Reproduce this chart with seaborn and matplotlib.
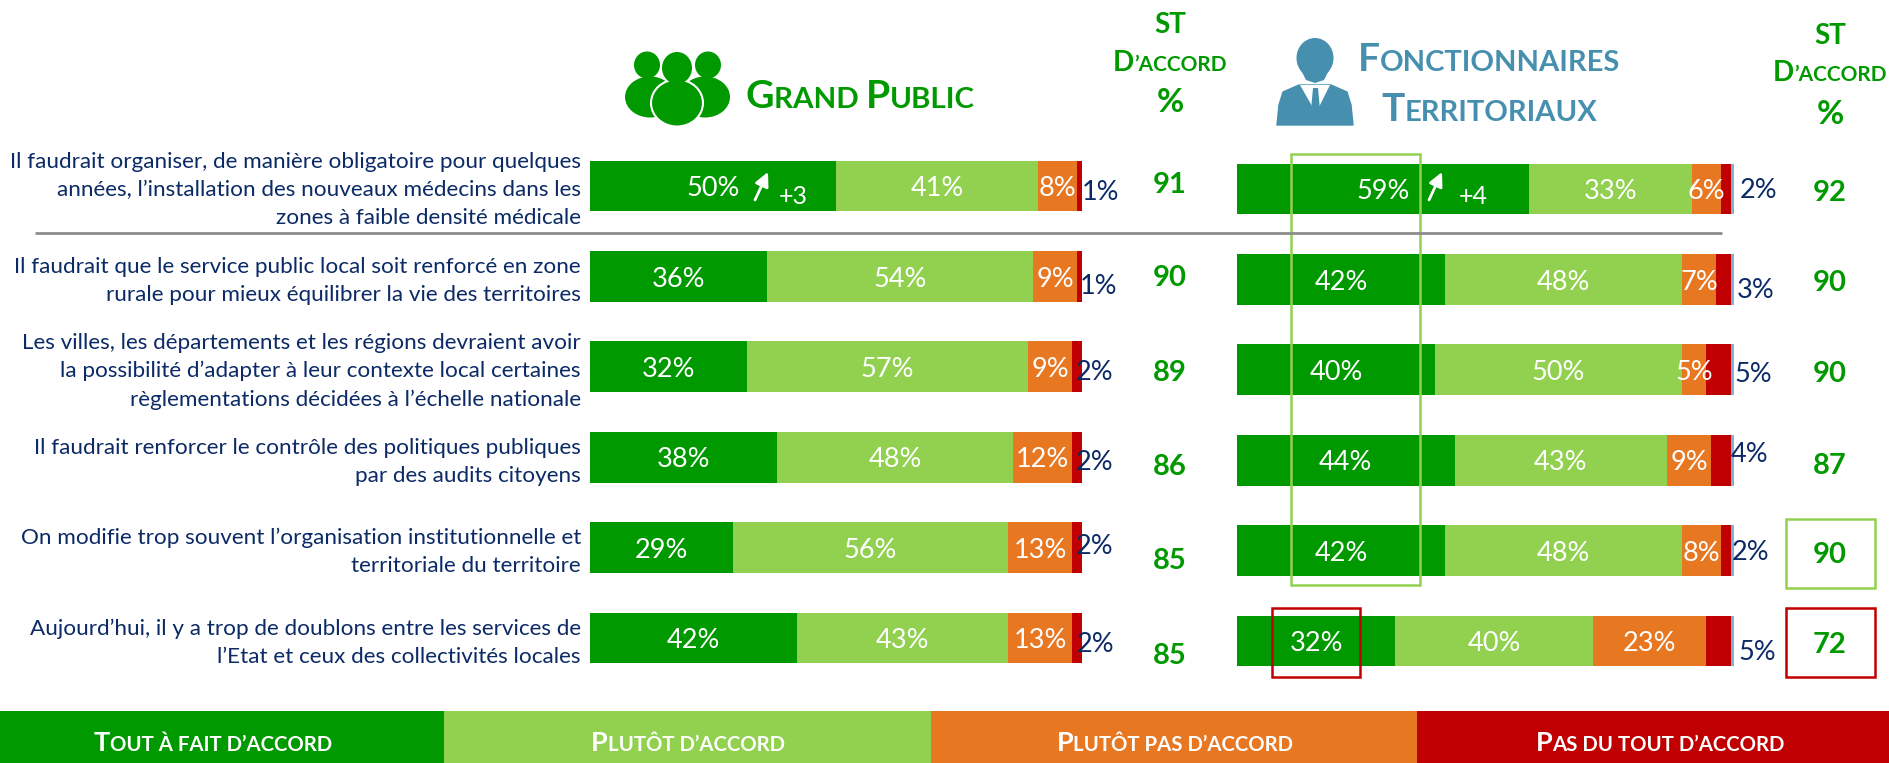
import matplotlib
matplotlib.use("Agg")
import matplotlib.pyplot as plt
import seaborn as sns
import pandas as pd
from matplotlib.patches import Rectangle, Ellipse, Polygon
from matplotlib.transforms import ScaledTranslation

# ---------- data ----------
questions = [
    "Il faudrait organiser, de manière obligatoire pour quelques\nannées, l’installation des nouveaux médecins dans les\nzones à faible densité médicale",
    "Il faudrait que le service public local soit renforcé en zone\nrurale pour mieux équilibrer la vie des territoires",
    "Les villes, les départements et les régions devraient avoir\nla possibilité d’adapter à leur contexte local certaines\nrèglementations décidées à l’échelle nationale",
    "Il faudrait renforcer le contrôle des politiques publiques\npar des audits citoyens",
    "On modifie trop souvent l’organisation institutionnelle et\nterritoriale du territoire",
    "Aujourd’hui, il y a trop de doublons entre les services de\nl’Etat et ceux des collectivités locales",
]
categories = ["Tout à fait d’accord", "Plutôt d’accord", "Plutôt pas d’accord", "Pas du tout d’accord"]

gp_tout = [50, 36, 32, 38, 29, 42]
gp_plutot = [41, 54, 57, 48, 56, 43]
gp_plutot_pas = [8, 9, 9, 12, 13, 13]
gp_pas = [1, 1, 2, 2, 2, 2]
gp_st = [91, 90, 89, 86, 85, 85]

ft_tout = [59, 42, 40, 44, 42, 32]
ft_plutot = [33, 48, 50, 43, 48, 40]
ft_plutot_pas = [6, 7, 5, 9, 8, 23]
ft_pas = [2, 3, 5, 4, 2, 5]
ft_nsp = [0.5, 0.5, 0.5, 0.5, 0.5, 0.5]
ft_st = [92, 90, 90, 87, 90, 72]

# ---------- style ----------
GREEN, LIGHT, ORANGE, RED = "#009900", "#92D14F", "#E87722", "#C00000"
NAVY, TEAL, SLIVER, GREY = "#0B2A66", "#468FAF", "#7FB2D6", "#8C8C8C"
seg_colors = [GREEN, LIGHT, ORANGE, RED, SLIVER]

sns.set_theme(style="white")
plt.rcParams["font.family"] = ["Lato", "DejaVu Sans"]

W, H = 1889, 763
fig = plt.figure(figsize=(W / 100, H / 100), dpi=100, facecolor="white")


def axes_px(x0, x1, y0, y1):
    return fig.add_axes([x0 / W, 1 - y1 / H, (x1 - x0) / W, (y1 - y0) / H])


def stacked(ax, series, xmax):
    left = [0.0] * len(questions)
    for vals, col in zip(series, seg_colors):
        df = pd.DataFrame({"q": questions, "v": vals})
        sns.barplot(data=df, y="q", x="v", left=left, color=col, saturation=1,
                    width=0.56, orient="h", ax=ax, linewidth=0, errorbar=None)
        for i, v in enumerate(vals):
            if col in (GREEN, LIGHT, ORANGE):
                ax.text(left[i] + v / 2, i + 0.03, f"{v}%", color="white", fontsize=LBL,
                        ha="center", va="center")
        left = [a + b for a, b in zip(left, vals)]
    ax.set_xlim(0, xmax)
    ax.set_ylim(5.5, -0.5)
    ax.set_xlabel("")
    ax.set_ylabel("")
    ax.set_xticks([])
    sns.despine(ax=ax, left=True, bottom=True)
    ax.patch.set_alpha(0)


LBL = 19.5
ax_l = axes_px(590, 1082, 140.8, 683.2)
stacked(ax_l, [gp_tout, gp_plutot, gp_plutot_pas, gp_pas], 100)
ax_l.tick_params(axis="y", length=0, pad=6.5)
offset = ScaledTranslation(0, 1.5 / 100, fig.dpi_scale_trans)
for t in ax_l.get_yticklabels():
    t.set_fontsize(16.2)
    t.set_color(NAVY)
    t.set_ha("right")
    t.set_multialignment("right")
    t.set_linespacing(1.5)
    t.set_transform(t.get_transform() + offset)

ax_r = axes_px(1237.2, 1733.6, 143.8, 686.2)
stacked(ax_r, [ft_tout, ft_plutot, ft_plutot_pas, ft_pas, ft_nsp], 100.5)
ax_r.set_yticks([])

# overlay in pixel coordinates for annotations
ov = fig.add_axes([0, 0, 1, 1], zorder=10)
ov.set_xlim(0, W)
ov.set_ylim(H, 0)
ov.axis("off")
ov.patch.set_alpha(0)
renderer = fig.canvas.get_renderer()


def width(s, size, weight):
    a = ov.text(0, 0, "|" + s + "|", fontsize=size, fontweight=weight)
    b = ov.text(0, 0, "||", fontsize=size, fontweight=weight)
    w = a.get_window_extent(renderer).width - b.get_window_extent(renderer).width
    a.remove()
    b.remove()
    return w


def smallcaps(s, cx, cy, big, color, ratio=0.75):
    """Draw s centred on (cx, cy) in small capitals, on a common baseline."""
    runs = []
    for ch in s:
        up = ch.isupper()
        if runs and runs[-1][1] == up:
            runs[-1][0] += ch
        else:
            runs.append([ch, up])
    parts = [(r.upper(), big if up else big * ratio) for r, up in runs]
    widths = [width(t, sz, "bold") for t, sz in parts]
    x = cx - sum(widths) / 2
    base = cy + big * 100 / 72 * 0.36
    for (t, sz), w in zip(parts, widths):
        ov.text(x, base, t, fontsize=sz, fontweight="bold", color=color, ha="left", va="baseline")
        x += w


# separator
ov.plot([35, 1722], [233, 233], color=GREY, lw=2, solid_capstyle="butt")

# outside labels (the smallest segment)
gp_lab_pos = [(1101, 192), (1099, 287), (1095, 372), (1095, 463), (1095, 546), (1096, 645)]
ft_lab_pos = [(1759, 190), (1756, 290), (1753, 374), (1750, 454), (1751, 552), (1757, 653)]
for v, (x, y) in zip(gp_pas, gp_lab_pos):
    ov.text(x, y, f"{v}%", color=NAVY, fontsize=LBL, ha="center", va="center")
for v, (x, y) in zip(ft_pas, ft_lab_pos):
    ov.text(x, y, f"{v}%", color=NAVY, fontsize=LBL, ha="center", va="center")

# total agree
gp_st_y = [185, 278, 373, 467, 561, 656]
ft_st_y = [193, 283, 374, 466, 555, 645]
for v, y in zip(gp_st, gp_st_y):
    ov.text(1170, y, str(v), color=GREEN, fontsize=21, fontweight="bold", ha="center", va="center")
for v, y in zip(ft_st, ft_st_y):
    ov.text(1830, y, str(v), color=GREEN, fontsize=21, fontweight="bold", ha="center", va="center")

# column headers
for cx, ys in ((1170, (25, 61, 103)), (1830, (36, 71, 114))):
    ov.text(cx, ys[0], "ST", color=GREEN, fontsize=20, fontweight="bold", ha="center", va="center")
    smallcaps("D’accord", cx, ys[1], 20, GREEN)
    ov.text(cx, ys[2], "%", color=GREEN, fontsize=24, fontweight="bold", ha="center", va="center")

smallcaps("Grand Public", 860, 94, 28.3, GREEN)
smallcaps("Fonctionnaires", 1489, 57, 28, TEAL)
smallcaps("Territoriaux", 1489, 107, 28, TEAL)

# trend arrows
for x0, x1, tx, txt in ((755, 768, 793, "+3"), (1429, 1442, 1473, "+4")):
    ov.annotate("", xy=(x1, 172), xytext=(x0, 200),
                arrowprops=dict(arrowstyle="-|>,head_length=0.7,head_width=0.35",
                                color="white", lw=2, shrinkA=0, shrinkB=0))
    ov.text(tx, 197, txt, color="white", fontsize=18, ha="center", va="center")

# highlight boxes
for (x0, y0, x1, y1, c) in ((1290.5, 154, 1420, 585, LIGHT), (1272, 608, 1360, 677, RED),
                            (1786, 519, 1875, 588, LIGHT), (1786, 608, 1875, 677, RED)):
    ov.add_patch(Rectangle((x0, y0), x1 - x0, y1 - y0, fill=False, ec=c, lw=1.8))

# legend band
edges = [0, 444, 931, 1417, 1889]
for i, name in enumerate(categories):
    ov.add_patch(Rectangle((edges[i], 711), edges[i + 1] - edges[i], 52, fc=seg_colors[i], ec="none"))
for name, cx in zip(categories, (213, 688, 1175, 1660)):
    smallcaps(name, cx, 741, 19.5, "white")

# "group" icon
for cx in (647, 708):
    ov.add_patch(Ellipse((cx, 65), 26, 27, fc=GREEN, ec="none"))
ov.add_patch(Ellipse((650, 97), 50, 41, fc=GREEN, ec="none"))
ov.add_patch(Ellipse((705, 97), 50, 41, fc=GREEN, ec="none"))
ov.add_patch(Ellipse((677, 103), 52, 47, fc=GREEN, ec="white", lw=1.5))
ov.add_patch(Ellipse((677, 68), 30, 32, fc=GREEN, ec="none"))

# "official" icon
ov.add_patch(Ellipse((1315, 58), 37, 40, fc=TEAL, ec="none"))
ov.add_patch(Polygon([(1299, 66), (1331, 66), (1324, 80), (1315, 83), (1306, 80)], fc=TEAL, ec="none"))
ov.add_patch(Polygon([(1299, 85), (1331, 85), (1347, 92), (1351, 105), (1353, 125), (1277, 125),
                      (1279, 105), (1283, 92)], fc=TEAL, ec=TEAL, lw=1, joinstyle="round"))
ov.add_patch(Polygon([(1300, 85), (1330, 85), (1316, 113)], fc="white", ec="none"))
ov.add_patch(Polygon([(1313, 88), (1318, 88), (1320, 110), (1315, 115), (1311, 110)], fc=TEAL, ec="none"))

fig.savefig("out.png", dpi=100)
